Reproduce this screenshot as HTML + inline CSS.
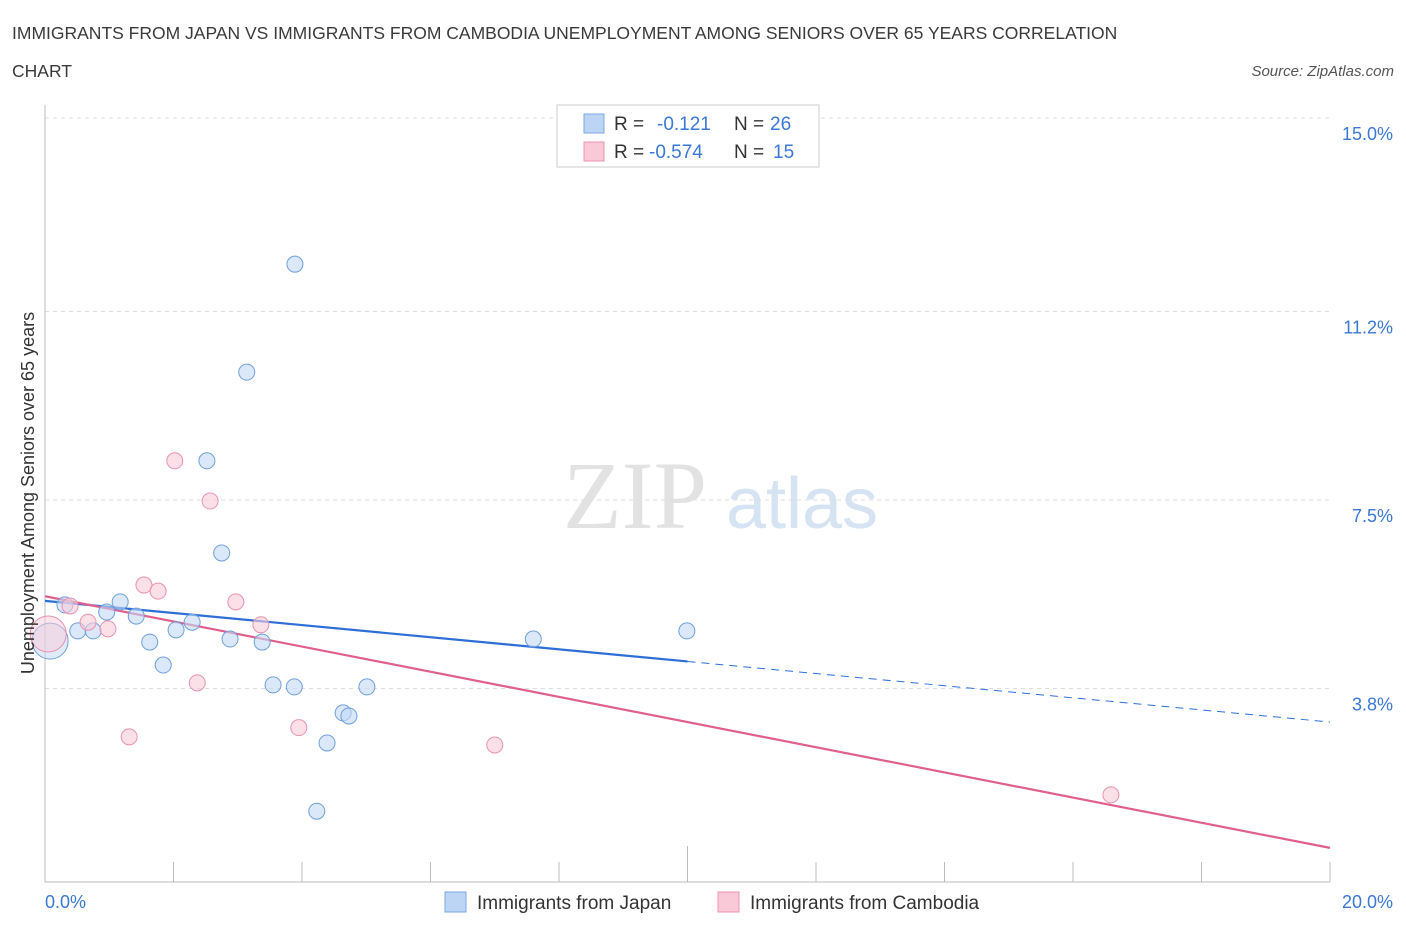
<!DOCTYPE html>
<html><head><meta charset="utf-8"><style>
body{margin:0;background:#fff;font-family:"Liberation Sans",sans-serif}
svg{display:block}
</style></head><body>
<svg id="chart" width="1406" height="930">
<text x="12" y="39" font-size="17.5" fill="#3a3a3a">IMMIGRANTS FROM JAPAN VS IMMIGRANTS FROM CAMBODIA UNEMPLOYMENT AMONG SENIORS OVER 65 YEARS CORRELATION</text>
<text x="12" y="77" font-size="17.5" fill="#3a3a3a">CHART</text>
<text x="1394" y="76" font-size="15" fill="#555" font-style="italic" text-anchor="end">Source: ZipAtlas.com</text>
<text x="635" y="528" font-size="96" fill="#e2e2e2" font-family="Liberation Serif,serif" text-anchor="middle">ZIP</text>
<text x="802" y="528" font-size="72" fill="#d5e3f3" text-anchor="middle">atlas</text>
<g id="grid"></g><g id="axes"></g><g id="lines"></g><g id="pts"></g>
<g>
<rect x="557" y="105" width="262" height="62" fill="#fff" stroke="#ccc"/>
<rect x="584" y="114" width="20" height="19" fill="#bcd5f5" stroke="#7aa8e0"/>
<rect x="584" y="142" width="20" height="19" fill="#f9c9d8" stroke="#eb93b0"/>
<text x="614" y="130" font-size="19" fill="#333">R = <tspan fill="#3a78d4" x="657">-0.121</tspan><tspan fill="#333" x="734">N = </tspan><tspan fill="#3a78d4" x="770">26</tspan></text>
<text x="614" y="158" font-size="19" fill="#333">R = <tspan fill="#3a78d4" x="649">-0.574</tspan><tspan fill="#333" x="734">N = </tspan><tspan fill="#3a78d4" x="773">15</tspan></text>
</g>
<g>
<rect x="445" y="892" width="21" height="20" fill="#bcd5f5" stroke="#7aa8e0"/>
<text x="477" y="909" font-size="19" fill="#333">Immigrants from Japan</text>
<rect x="718" y="892" width="21" height="20" fill="#f9c9d8" stroke="#eb93b0"/>
<text x="750" y="909" font-size="19" fill="#333">Immigrants from Cambodia</text>
</g>
<text x="45" y="908" font-size="18" fill="#3a78d4">0.0%</text>
<text x="1393" y="908" font-size="18" fill="#3a78d4" text-anchor="end">20.0%</text>
<text transform="translate(34,493) rotate(-90)" font-size="18" fill="#333" text-anchor="middle">Unemployment Among Seniors over 65 years</text>
</svg>
<script>
const yTicks=[15.0,11.2,7.5,3.8];
const yTickLabels=["15.0%","11.2%","7.5%","3.8%"];
const xTicks=[0,2,4,6,8,10,12,14,16,18,20];
const japanX=[3.89,3.14,2.52,2.75,1.17,0.31,0.96,1.42,2.29,0.51,0.75,2.04,1.63,2.88,3.38,7.60,9.99,1.84,3.55,3.88,5.01,4.64,4.73,4.39,4.23,0.08];
const japanY=[12.13,10.01,8.27,6.46,5.50,5.44,5.30,5.22,5.10,4.93,4.93,4.95,4.71,4.77,4.71,4.77,4.93,4.26,3.87,3.83,3.83,3.32,3.26,2.73,1.39,4.73];
const cambX=[2.02,2.57,1.54,1.76,2.97,0.39,0.67,0.98,3.36,2.37,1.31,3.95,7.00,16.59,0.05];
const cambY=[8.27,7.48,5.83,5.71,5.50,5.42,5.10,4.97,5.05,3.91,2.85,3.03,2.69,1.71,4.87];
const japanTrend=[5.52,3.14];
const cambTrend=[5.61,0.67];
const NS="http://www.w3.org/2000/svg";
const X=v=>45+v/20*1285, Y=v=>118+(15-v)/3.75*191;
function mk(p,t,a){const e=document.createElementNS(NS,t);for(const k in a)e.setAttribute(k,a[k]);p.appendChild(e);return e;}
const g=document.getElementById('grid'),ax=document.getElementById('axes'),ln=document.getElementById('lines'),pt=document.getElementById('pts');
yTicks.forEach((v,i)=>{
const l=mk(g,'line',{x1:45,x2:1330,y1:Y(v),y2:Y(v),stroke:'#ddd','stroke-dasharray':'4,4'});


const t=mk(g,'text',{x:1393,y:Y(v)+22,'font-size':18,fill:'#3a78d4','text-anchor':'end'});t.textContent=yTickLabels[i];


});
const xa=mk(ax,'line',{x1:45,x2:1330,y1:882,y2:882,stroke:'#bbb'});


const ya=mk(ax,'line',{x1:45,x2:45,y1:105,y2:882,stroke:'#bbb'});


xTicks.forEach(v=>{const t=mk(ax,'line',{x1:X(v),x2:X(v),y1:v==10?846:862,y2:882,stroke:'#bbb'});

});
function pts(xs,ys,fill,stroke,name){xs.forEach((x,i)=>{const big=i==xs.length-1;
const c=mk(pt,'circle',{cx:X(x),cy:Y(ys[i]),r:big?18:8,fill:fill,'fill-opacity':big?0.5:0.6,stroke:stroke,'stroke-width':1});

});}
pts(japanX,japanY,'#c2d8f5','#6f9fdc','japan-point');
pts(cambX,cambY,'#f9cbd9','#e892ae','cambodia-point');
const bt=(x)=>japanTrend[0]+(japanTrend[1]-japanTrend[0])*x/20;
const b1=mk(ln,'line',{x1:X(0),y1:Y(bt(0)),x2:X(10),y2:Y(bt(10)),stroke:'#2d6fd6','stroke-width':2.2});


const b2=mk(ln,'line',{x1:X(10),y1:Y(bt(10)),x2:X(20),y2:Y(bt(20)),stroke:'#2d6fd6','stroke-width':1,'stroke-dasharray':'8,6'});


const p1=mk(ln,'line',{x1:X(0),y1:Y(cambTrend[0]),x2:X(20),y2:Y(cambTrend[1]),stroke:'#e0608d','stroke-width':2.2});


</script>
</body></html>
